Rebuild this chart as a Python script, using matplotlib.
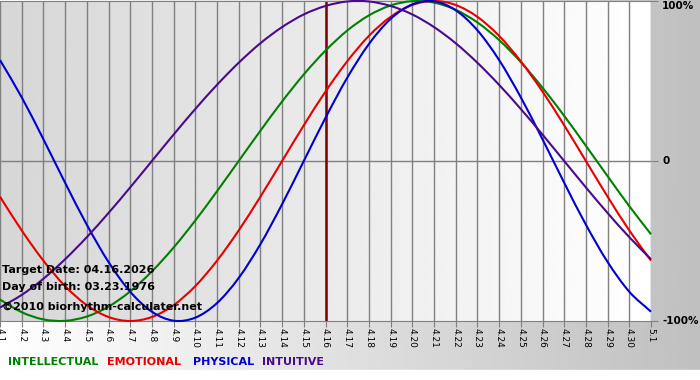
import numpy as np
import matplotlib.pyplot as plt
from matplotlib.path import Path
from matplotlib.patches import PathPatch

# days shown on the x axis (4.1 .. 5.1)
days = ["4.%d" % d for d in range(1, 31)] + ["5.1"]
target_idx = 15  # 4.16

intellectual = [-0.866, -0.945, -0.990, -0.999, -0.972, -0.910, -0.815, -0.690, -0.541, -0.372,
                -0.189, 0.000, 0.189, 0.372, 0.541, 0.690, 0.815, 0.910, 0.972, 0.999,
                0.990, 0.945, 0.866, 0.756, 0.618, 0.458, 0.282, 0.095, -0.095, -0.282, -0.458]
emotional = [-0.223, -0.434, -0.623, -0.782, -0.901, -0.975, -1.000, -0.975, -0.901, -0.782,
             -0.623, -0.434, -0.223, 0.000, 0.223, 0.434, 0.623, 0.782, 0.901, 0.975,
             1.000, 0.975, 0.901, 0.782, 0.623, 0.434, 0.223, 0.000, -0.223, -0.434, -0.623]
physical = [0.631, 0.398, 0.136, -0.136, -0.398, -0.631, -0.817, -0.942, -0.998, -0.979,
            -0.888, -0.731, -0.520, -0.270, 0.000, 0.270, 0.520, 0.731, 0.888, 0.979,
            0.998, 0.942, 0.817, 0.631, 0.398, 0.136, -0.136, -0.398, -0.631, -0.817, -0.942]
intuitive = [-0.916, -0.837, -0.736, -0.614, -0.476, -0.325, -0.165, 0.000, 0.165, 0.325,
             0.476, 0.614, 0.736, 0.837, 0.916, 0.969, 0.997, 0.997, 0.969, 0.916,
             0.837, 0.736, 0.614, 0.476, 0.325, 0.165, 0.000, -0.165, -0.325, -0.476, -0.614]

series = [("INTELLECTUAL", intellectual, "#008000"),
          ("EMOTIONAL", emotional, "#e80000"),
          ("PHYSICAL", physical, "#0000d0"),
          ("INTUITIVE", intuitive, "#4b0a8c")]


def smooth_path(xs, ys):
    # catmull-rom through the daily points, as cubic bezier segments
    pts = np.column_stack([xs, ys]).astype(float)
    ext = np.vstack([2 * pts[0] - pts[1], pts, 2 * pts[-1] - pts[-2]])
    verts = [pts[0]]
    codes = [Path.MOVETO]
    for i in range(1, len(ext) - 2):
        p0, p1, p2, p3 = ext[i - 1], ext[i], ext[i + 1], ext[i + 2]
        verts += [p1 + (p2 - p0) / 6, p2 - (p3 - p1) / 6, p2]
        codes += [Path.CURVE4] * 3
    return Path(verts, codes)


W, H = 700, 380
fig = plt.figure(figsize=(W / 100, H / 100), dpi=100)

# figure background: white -> gray from left to right, white strip at bottom
bg = fig.add_axes([0, 0, 1, 1])
grad = np.linspace(1.0, 0.75, 256).reshape(1, -1)
bg.imshow(grad, aspect="auto", cmap="gray", vmin=0, vmax=1, extent=[0, 1, 0, 1])
bg.axhspan(0, 10 / H, color="white")
bg.set_xlim(0, 1)
bg.set_ylim(0, 1)
bg.axis("off")

# plot area
x = np.arange(len(days))
ax = fig.add_axes([0, 59 / H, 651 / W, 320 / H])
ax.set_xlim(0, len(days) - 1)
ax.set_ylim(-1.0, 1.0)
pgrad = np.linspace(0.84, 1.0, 256).reshape(1, -1)
ax.imshow(pgrad, aspect="auto", cmap="gray", vmin=0, vmax=1,
          extent=[0, len(days) - 1, -1, 1], zorder=0)

for xi in x:
    ax.axvline(xi, color="#808080", lw=1, zorder=1)
ax.axhline(0, color="#808080", lw=1, zorder=1)
ax.axvline(target_idx, color="#800000", lw=1.8, zorder=2)

for name, vals, col in series:
    ax.add_patch(PathPatch(smooth_path(x, vals), fill=False, edgecolor=col,
                           lw=1.5, zorder=3, clip_on=False))

for sp in ["left", "right"]:
    ax.spines[sp].set_visible(False)
ax.spines["top"].set_color("#808080")
ax.spines["bottom"].set_color("#808080")

ax.set_xticks(x)
ax.set_xticklabels(days, rotation=-90, fontsize=6.5, family="DejaVu Sans")
ax.tick_params(axis="x", length=4, color="#808080", pad=1)

ax.yaxis.tick_right()
ax.set_yticks([-1, 0, 1])
ax.set_yticklabels(["-100%", "0", "100%"], fontsize=7.5, fontweight="bold")
ax.tick_params(axis="y", length=5, color="#808080", pad=3)
for lab in ax.get_yticklabels():
    lab.set_verticalalignment("top" if lab.get_text() == "100%" else "center")

# info text
info = ["Target Date: 04.16.2026", "Day of birth: 03.23.1976", "\u00a92010 biorhythm-calculater.net"]
info_y = [270, 287, 307]
for t, yy in zip(info, info_y):
    fig.text(2 / W, 1 - yy / H, t, fontsize=8, fontweight="bold", va="center", ha="left")

# legend
leg_x = [8, 107, 193, 262]
for (name, vals, col), lx in zip(series, leg_x):
    fig.text(lx / W, 1 - 362 / H, name, color=col, fontsize=8, fontweight="bold",
             va="center", ha="left")

fig.savefig("out.png", dpi=100)
